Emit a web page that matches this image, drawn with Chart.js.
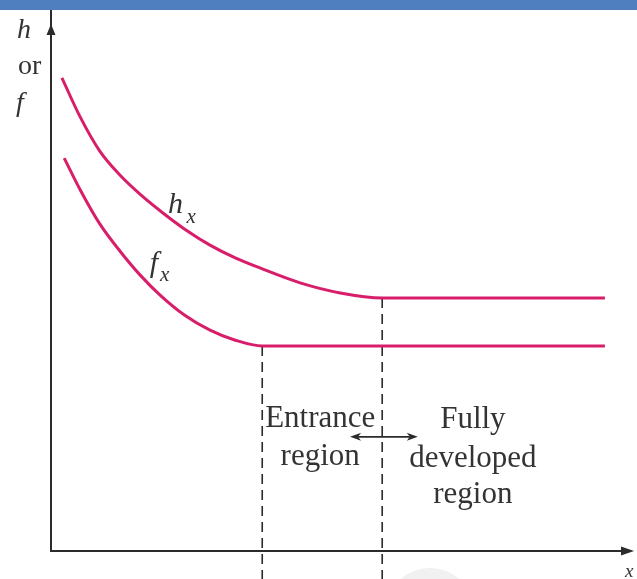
<!DOCTYPE html>
<html>
<head>
<meta charset="utf-8">
<script src="https://cdn.jsdelivr.net/npm/chart.js@4"></script>
<style>
  html, body { margin: 0; padding: 0; background: #fff; }
  #wrap { width: 637px; height: 579px; }
</style>
</head>
<body>
<div id="wrap"><canvas id="chart" width="637" height="579"></canvas></div>
<script>
// values (x: 0..100 along the pipe, y: 0..100 arbitrary)
const hxPoints = [
  [1.9, 89.1], [5.1, 81.7], [8.5, 75.3], [12.0, 70.8], [15.5, 67.2], [19.5, 63.65],
  [23.3, 60.6], [27.7, 57.6], [32.1, 55.2], [36.4, 53.3], [43.4, 50.5],
  [50.4, 48.6], [57.7, 47.65], [96.5, 47.65]
];
const fxPoints = [
  [2.3, 74.0], [5.1, 68.0], [8.5, 61.6], [12.0, 56.5], [15.5, 52.0], [19.0, 48.2],
  [23.3, 44.4], [27.7, 41.6], [32.1, 39.7], [36.8, 38.6], [96.5, 38.6]
];
const entranceEnd = 36.8;   // where f levels off
const developedStart = 57.7; // where h levels off
const dashBottom = -5.4;

const curveColor = '#d81e6a';
const inkColor = '#2b2b2b';
const serif = '"Liberation Serif", "DejaVu Serif", serif';

const toXY = pts => pts.map(p => ({ x: p[0], y: p[1] }));

const overlay = {
  id: 'overlay',
  beforeDraw(chart) {
    const c = chart.ctx;
    c.save();
    // faint grey blob at bottom
    c.fillStyle = '#f1f1f1';
    c.beginPath();
    c.arc(430, 612, 44, 0, Math.PI * 2);
    c.fill();
    c.restore();
  },
  afterDatasetsDraw(chart) {
    const c = chart.ctx;
    const a = chart.chartArea;
    const xs = chart.scales.x, ys = chart.scales.y;
    c.save();
    c.strokeStyle = inkColor;
    c.fillStyle = inkColor;
    c.lineWidth = 2;

    // y axis
    c.beginPath();
    c.moveTo(a.left, a.bottom + 1);
    c.lineTo(a.left, 8);
    c.stroke();
    c.beginPath();
    c.moveTo(a.left, 24);
    c.lineTo(a.left - 4.5, 35);
    c.lineTo(a.left + 4.5, 35);
    c.closePath();
    c.fill();

    // x axis
    c.beginPath();
    c.moveTo(a.left - 1, a.bottom);
    c.lineTo(a.right + 6, a.bottom);
    c.stroke();
    c.beginPath();
    c.moveTo(a.right + 9, a.bottom);
    c.lineTo(a.right - 4, a.bottom - 4.5);
    c.lineTo(a.right - 4, a.bottom + 4.5);
    c.closePath();
    c.fill();

    // double arrow between the regions
    const ay = ys.getPixelForValue(21.5);
    const ax1 = xs.getPixelForValue(52.1), ax2 = xs.getPixelForValue(63.9);
    c.lineWidth = 1.6;
    c.beginPath();
    c.moveTo(ax1 + 6, ay);
    c.lineTo(ax2 - 6, ay);
    c.stroke();
    [[ax1, 1], [ax2, -1]].forEach(([px, d]) => {
      c.beginPath();
      c.moveTo(px, ay);
      c.lineTo(px + d * 11, ay - 4);
      c.lineTo(px + d * 8, ay);
      c.lineTo(px + d * 11, ay + 4);
      c.closePath();
      c.fill();
    });

    // blue header bar
    c.fillStyle = '#4f7fbf';
    c.fillRect(0, 0, chart.width, 10);
    c.restore();
  },
  afterDraw(chart) {
    const c = chart.ctx;
    const a = chart.chartArea;
    const xs = chart.scales.x, ys = chart.scales.y;
    const X = v => xs.getPixelForValue(v), Y = v => ys.getPixelForValue(v);
    c.save();
    c.fillStyle = '#333';
    c.textBaseline = 'alphabetic';

    // axis title
    c.textAlign = 'left';
    c.font = 'italic 28px ' + serif;
    c.fillText('h', a.left - 34, 38);
    c.font = '28px ' + serif;
    c.fillText('or', a.left - 33, 74);
    c.font = 'italic 28px ' + serif;
    c.fillText('f', a.left - 35, 111);
    c.font = 'italic 19px ' + serif;
    c.fillText('x', a.right, chart.height - 2);

    // curve labels
    c.font = 'italic 30px ' + serif;
    c.fillText('h', X(20.4), Y(63.7));
    c.fillText('f', X(17.2), Y(52.6));
    c.font = 'italic 21px ' + serif;
    c.fillText('x', X(23.6), Y(61.8));
    c.fillText('x', X(19.0), Y(50.9));

    // region labels
    c.textAlign = 'center';
    c.font = '31px ' + serif;
    c.fillText('Entrance', X(46.9), Y(23.4));
    c.fillText('region', X(46.9), Y(16.2));
    c.fillText('Fully', X(73.5), Y(23.2));
    c.fillText('developed', X(73.5), Y(15.8));
    c.fillText('region', X(73.5), Y(9.0));
    c.restore();
  }
};

new Chart(document.getElementById('chart'), {
  type: 'line',
  data: {
    datasets: [
      {
        label: 'h_x',
        data: toXY(hxPoints),
        borderColor: curveColor,
        borderWidth: 3,
        pointRadius: 0,
        cubicInterpolationMode: 'monotone'
      },
      {
        label: 'f_x',
        data: toXY(fxPoints),
        borderColor: curveColor,
        borderWidth: 3,
        pointRadius: 0,
        cubicInterpolationMode: 'monotone'
      },
      {
        label: 'entrance limit',
        data: [{ x: entranceEnd, y: 38.6 }, { x: entranceEnd, y: dashBottom }],
        borderColor: inkColor,
        borderWidth: 1.6,
        borderDash: [10, 6],
        pointRadius: 0,
        clip: false
      },
      {
        label: 'developed limit',
        data: [{ x: developedStart, y: 47.65 }, { x: developedStart, y: dashBottom }],
        borderColor: inkColor,
        borderWidth: 1.6,
        borderDash: [10, 6],
        pointRadius: 0,
        clip: false
      }
    ]
  },
  options: {
    responsive: false,
    animation: false,
    layout: { padding: { left: 51, right: 12, top: 20, bottom: 28 } },
    plugins: { legend: { display: false }, tooltip: { enabled: false } },
    scales: {
      x: { type: 'linear', min: 0, max: 100, display: false },
      y: { type: 'linear', min: 0, max: 100, display: false }
    }
  },
  plugins: [overlay]
});
</script>
</body>
</html>
